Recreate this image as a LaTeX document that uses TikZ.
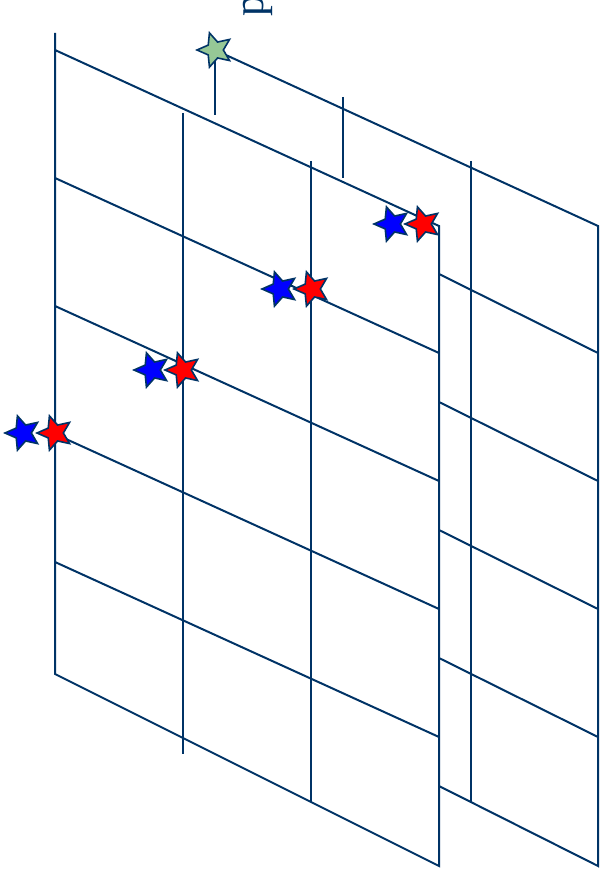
\documentclass[tikz,border=0pt]{standalone}
\usepackage{fontspec}
\setmainfont{Liberation Serif}
\usetikzlibrary{shapes.geometric}
\definecolor{navy}{RGB}{0,51,102}
\definecolor{starblue}{RGB}{0,0,255}
\definecolor{starred}{RGB}{255,0,0}
\definecolor{stargreen}{RGB}{150,200,150}
\begin{document}
\begin{tikzpicture}[x=1pt,y=-1pt,
  grid/.style={navy, line width=2pt},
  atom/.style={star, star points=5, star point ratio=2.15, shape border rotate=90,
    minimum size=36pt, inner sep=0pt, draw=navy, line width=1.6pt}]
\useasboundingbox (0,0) rectangle (599,877);
% back plane (visible parts)
\draw[grid] (215,50) -- (598,226) -- (598,866) -- (439,786);
\draw[grid] (215,50) -- (215,115);
\draw[grid] (343,97) -- (343,178);
\draw[grid] (471,161) -- (471,802);
\draw[grid] (439,274) -- (598,353);
\draw[grid] (439,402) -- (598,481);
\draw[grid] (439,530) -- (598,609);
\draw[grid] (439,658) -- (598,737);
% front plane
\draw[grid] (55,33) -- (55,674) -- (439,866) -- (439,226) -- (55,50);
\draw[grid] (183,113) -- (183,754);
\draw[grid] (311,161) -- (311,802);
\draw[grid] (55,178) -- (439,353);
\draw[grid] (55,306) -- (439,481);
\draw[grid] (55,434) -- (439,609);
\draw[grid] (55,562) -- (439,737);
% stars
\node[atom, fill=stargreen] (g) at (215,50) {};
\node[atom, fill=starblue] (b1) at (392,224) {};
\node[atom, fill=starred] (r1) at (423,224) {};
\node[atom, fill=starblue] (b2) at (280,289) {};
\node[atom, fill=starred] (r2) at (312,289) {};
\node[atom, fill=starblue] (b3) at (152,370) {};
\node[atom, fill=starred] (r3) at (183,370) {};
\node[atom, fill=starblue] (b4) at (23,433) {};
\node[atom, fill=starred] (r4) at (55,433) {};
% label
\node[rotate=90, anchor=base west, inner sep=0pt, text=navy,
  font=\fontsize{43}{43}\selectfont] (lbl) at (263,17) {p};
\end{tikzpicture}
\end{document}
